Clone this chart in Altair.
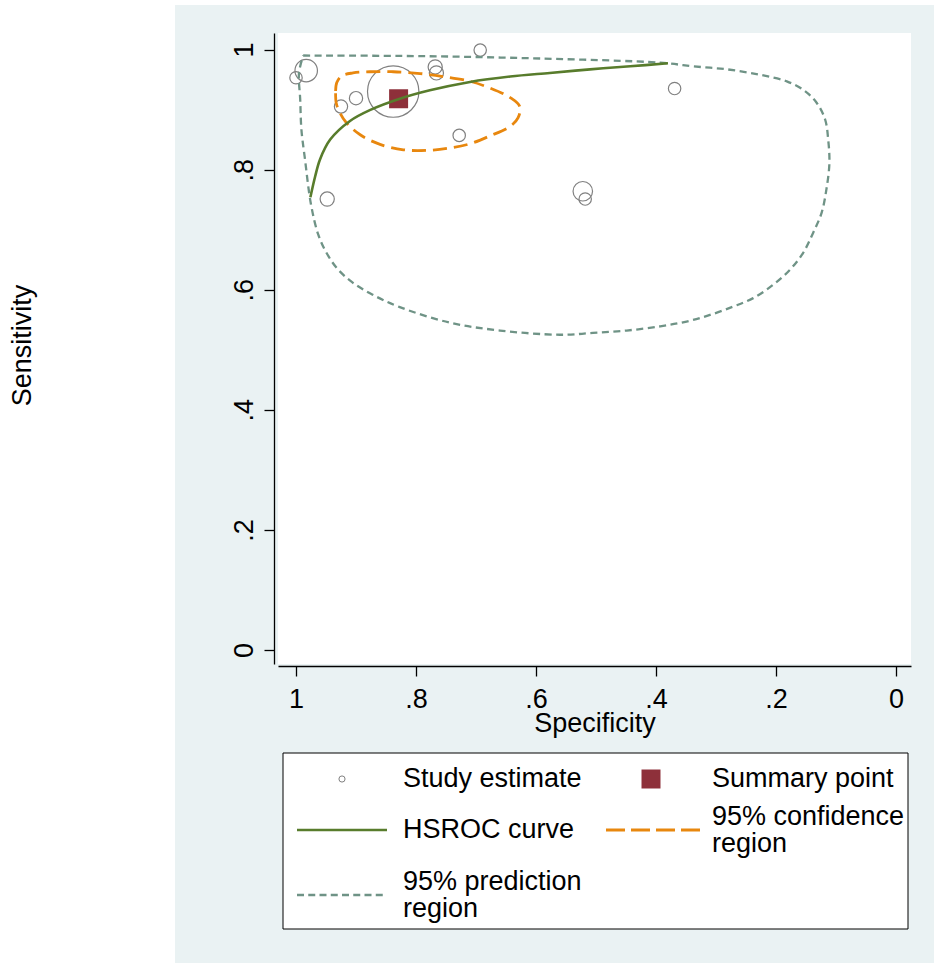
import altair as alt
import pandas as pd

# ---------------- data ----------------
study_spec = [1.000, 0.983, 0.838, 0.925, 0.900, 0.693, 0.768, 0.766, 0.728, 0.369, 0.522, 0.518, 0.948]
study_sens = [0.953, 0.965, 0.930, 0.905, 0.919, 0.999, 0.971, 0.961, 0.857, 0.935, 0.764, 0.751, 0.751]
study_weight = [49, 161, 841, 56, 56, 49, 64, 64, 49, 49, 121, 49, 64]

summary_spec = [0.829]
summary_sens = [0.918]

hsroc_spec = [0.976, 0.968, 0.960, 0.943, 0.910, 0.877, 0.827, 0.777, 0.710, 0.643, 0.577, 0.510, 0.443, 0.380]
hsroc_sens = [0.754, 0.789, 0.817, 0.850, 0.881, 0.899, 0.918, 0.932, 0.946, 0.955, 0.961, 0.967, 0.972, 0.977]

conf_spec = [0.934, 0.932, 0.924, 0.905, 0.877, 0.838, 0.793, 0.755, 0.710, 0.677, 0.643, 0.627, 0.630,
             0.643, 0.677, 0.710, 0.743, 0.782, 0.821, 0.860, 0.893, 0.916, 0.927, 0.933, 0.934]
conf_sens = [0.931, 0.945, 0.956, 0.961, 0.963, 0.963, 0.960, 0.955, 0.947, 0.936, 0.920, 0.905, 0.886,
             0.872, 0.856, 0.843, 0.836, 0.832, 0.833, 0.842, 0.858, 0.878, 0.895, 0.911, 0.931]

pred_spec = [0.988, 0.793, 0.593, 0.393, 0.338, 0.282, 0.227, 0.182, 0.152, 0.132, 0.118, 0.113, 0.111,
             0.116, 0.124, 0.138, 0.155, 0.177, 0.205, 0.238, 0.271, 0.310, 0.349, 0.393, 0.449, 0.505,
             0.560, 0.660, 0.743, 0.827, 0.873, 0.907, 0.932, 0.950, 0.963, 0.975, 0.985, 0.991, 0.993,
             0.995, 0.988]
pred_sens = [0.990, 0.989, 0.985, 0.978, 0.972, 0.967, 0.958, 0.947, 0.931, 0.911, 0.883, 0.850, 0.811,
             0.767, 0.728, 0.695, 0.661, 0.633, 0.608, 0.586, 0.572, 0.558, 0.547, 0.539, 0.532, 0.528,
             0.525, 0.532, 0.545, 0.571, 0.592, 0.613, 0.636, 0.663, 0.692, 0.742, 0.817, 0.867, 0.917,
             0.961, 0.990]

tick_values = [0, 0.2, 0.4, 0.6, 0.8, 1]
legend_labels = ["Study estimate", "Summary point", "HSROC curve",
                 ["95% confidence", "region"], ["95% prediction", "region"]]

# ---------------- styles ----------------
FONT = "Liberation Sans"
FS = 27
BG = "#EAF2F3"
GRAY = "#808080"
RED = "#8E303A"
GREEN = "#587C2C"
ORANGE = "#E8870E"
TEAL = "#6F9386"

W, H = 633, 631

study_df = pd.DataFrame({"spec": study_spec, "sens": study_sens, "weight": study_weight})
summary_df = pd.DataFrame({"spec": summary_spec, "sens": summary_sens})


def path_df(sp, se):
    return pd.DataFrame({"spec": sp, "sens": se, "i": list(range(len(sp)))})


xscale = alt.Scale(domain=[-0.025, 1.03], reverse=True, nice=False, zero=False)
yscale = alt.Scale(domain=[-0.0233, 1.0275], nice=False, zero=False)
lab = "replace(format(datum.value, '~g'), '0.', '.')"
xaxis = alt.Axis(values=tick_values, labelExpr=lab, title="Specificity", offset=2, zindex=1,
                 tickSize=10, labelPadding=10, titleY=65, titleBaseline="alphabetic")
yaxis = alt.Axis(values=tick_values, labelExpr=lab, title="Sensitivity", offset=4, zindex=1,
                 tickSize=10, labelAngle=270, labelAlign="center", labelBaseline="alphabetic",
                 labelPadding=12, titleAngle=270, titleX=-244, titleY=312,
                 titleAlign="center", titleBaseline="alphabetic")


def xy():
    return dict(x=alt.X("spec:Q", scale=xscale, axis=xaxis),
                y=alt.Y("sens:Q", scale=yscale, axis=yaxis))


one = pd.DataFrame({"k": [0]})

# white strips outside the light graph region
left_strip = alt.Chart(one).mark_rect(color="white").encode(
    x=alt.value(-278), x2=alt.value(-103), y=alt.value(-33), y2=alt.value(930))
top_strip = alt.Chart(one).mark_rect(color="white").encode(
    x=alt.value(-103), x2=alt.value(656), y=alt.value(-33), y2=alt.value(-28))

circles = alt.Chart(study_df).mark_point(shape="circle", filled=False, color=GRAY,
                                         strokeWidth=1.2, opacity=1).encode(
    size=alt.Size("weight:Q", scale=alt.Scale(domain=[0, 841], range=[0, 2642]), legend=None),
    **xy())

pred = alt.Chart(path_df(pred_spec, pred_sens)).mark_line(
    color=TEAL, strokeWidth=2.3, strokeDash=[7, 4.5], interpolate="catmull-rom").encode(
    order="i:Q", **xy())
conf = alt.Chart(path_df(conf_spec, conf_sens)).mark_line(
    color=ORANGE, strokeWidth=2.8, strokeDash=[14, 7], interpolate="catmull-rom").encode(
    order="i:Q", **xy())
summary = alt.Chart(summary_df).mark_point(shape="square", filled=True, color=RED,
                                           size=361, opacity=1).encode(**xy())
hsroc = alt.Chart(path_df(hsroc_spec, hsroc_sens)).mark_line(
    color=GREEN, strokeWidth=2.6, interpolate="catmull-rom").encode(order="i:Q", **xy())

# ---------------- legend (drawn as decoration) ----------------
LX, LY = 5, 720          # box top-left relative to plot area
C1, C2 = 14, 323         # column offsets of symbols
R = [26, 77, 142]        # row centre offsets
SYM_W = 90
TXT_OFF = 106
LH = 27

box = alt.Chart(one).mark_rect(fill="white", stroke="black", strokeWidth=1).encode(
    x=alt.value(LX), x2=alt.value(LX + 625), y=alt.value(LY), y2=alt.value(LY + 176))

leg_circle = alt.Chart(one).mark_point(shape="circle", filled=False, color=GRAY, size=38,
                                       strokeWidth=1, opacity=1).encode(
    x=alt.value(LX + C1 + SYM_W / 2), y=alt.value(LY + R[0]))
leg_square = alt.Chart(one).mark_point(shape="square", filled=True, color=RED, size=361,
                                       opacity=1).encode(
    x=alt.value(LX + C2 + SYM_W / 2), y=alt.value(LY + R[0]))
leg_green = alt.Chart(one).mark_rule(color=GREEN, strokeWidth=2.6).encode(
    x=alt.value(LX + C1), x2=alt.value(LX + C1 + SYM_W), y=alt.value(LY + R[1]))
leg_orange = alt.Chart(one).mark_rule(color=ORANGE, strokeWidth=2.8, strokeDash=[19, 6]).encode(
    x=alt.value(LX + C2), x2=alt.value(LX + C2 + 94), y=alt.value(LY + R[1]))
leg_teal = alt.Chart(one).mark_rule(color=TEAL, strokeWidth=2.3, strokeDash=[7, 4.25]).encode(
    x=alt.value(LX + C1), x2=alt.value(LX + C1 + SYM_W), y=alt.value(LY + R[2]))


def leg_text(t, col, row):
    n = len(t) if isinstance(t, list) else 1
    return alt.Chart(one).mark_text(text=t, align="left", baseline="middle", font=FONT,
                                    fontSize=FS, color="black", lineHeight=LH).encode(
        x=alt.value(LX + col + TXT_OFF), y=alt.value(LY + R[row] - (n - 1) * LH / 2))


texts = [leg_text(legend_labels[0], C1, 0), leg_text(legend_labels[1], C2, 0),
         leg_text(legend_labels[2], C1, 1), leg_text(legend_labels[3], C2, 1),
         leg_text(legend_labels[4], C1, 2)]

chart = alt.layer(
    left_strip, top_strip, circles, pred, conf, summary, hsroc,
    box, leg_circle, leg_square, leg_green, leg_orange, leg_teal, *texts
).properties(
    width=W, height=H,
    padding={"left": 278, "top": 33, "right": 23, "bottom": 299},
    autosize=alt.AutoSizeParams(type="none"),
    background=BG,
).configure_view(
    fill="white", stroke=None
).configure_axis(
    labelFont=FONT, titleFont=FONT, labelFontSize=FS, titleFontSize=FS,
    titleFontWeight="normal", labelColor="black", titleColor="black",
    domainColor="black", tickColor="black", domainWidth=1.3, tickWidth=1.3,
    grid=False, labelFlush=False, labelOverlap=False
)

chart.save("out.html", embed_options={"renderer": "svg", "actions": False})
